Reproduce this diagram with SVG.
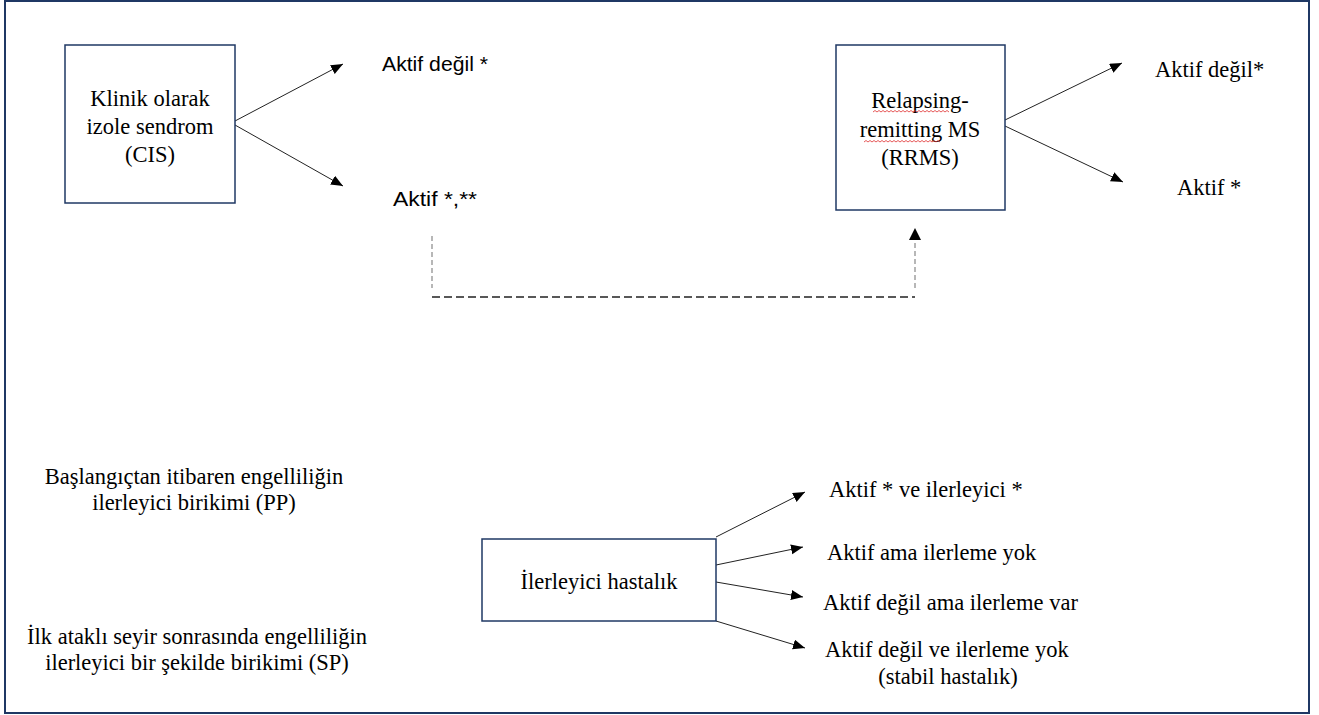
<svg xmlns="http://www.w3.org/2000/svg" width="1319" height="715" viewBox="0 0 1319 715">
<style>
.box{fill:#fff;stroke:#1f3864;stroke-width:1.5}
.serif{font-family:"Liberation Serif","Times New Roman",serif;font-size:22.5px;fill:#000}
.sans{font-family:"Liberation Sans",Arial,sans-serif;font-size:21px;fill:#000}
.arr{stroke:#222;stroke-width:1;fill:none;marker-end:url(#ah)}
.dash{stroke:#222;stroke-width:1.3;stroke-dasharray:8,4;fill:none}
.dashg{stroke:#888;stroke-width:1.2;stroke-dasharray:5,3;fill:none}
.sq{stroke:#e03030;stroke-width:0.8;fill:none}
</style>
<defs>
<marker id="ah" markerUnits="userSpaceOnUse" markerWidth="14" markerHeight="12" refX="12" refY="5" orient="auto">
<path d="M0,0 L12,5 L0,10 z" fill="#000"/>
</marker>
</defs>
<rect x="0" y="0" width="1319" height="715" fill="#fff"/>
<rect x="5" y="1" width="1304" height="712" fill="none" stroke="#1f3864" stroke-width="2"/>

<g id="connectors">
<line class="arr" x1="235" y1="121" x2="343" y2="64"/>
<line class="arr" x1="235" y1="125" x2="343" y2="186"/>
<line class="arr" x1="1005" y1="120" x2="1122" y2="63"/>
<line class="arr" x1="1005" y1="126" x2="1123" y2="182"/>
<line class="dashg" x1="432" y1="236" x2="432" y2="288"/>
<line class="dash" x1="432" y1="297" x2="915" y2="297"/>
<line class="dashg" x1="915" y1="288" x2="915" y2="240"/>
<path d="M909,240 L915,228 L921,240 z" fill="#000"/>
<line class="arr" x1="716" y1="537" x2="805" y2="492"/>
<line class="arr" x1="716" y1="565" x2="803" y2="547"/>
<line class="arr" x1="716" y1="582" x2="803" y2="597"/>
<line class="arr" x1="716" y1="621" x2="805" y2="648"/>
</g>

<g id="cis">
<rect class="box" x="65" y="45" width="170" height="158"/>
<text class="serif" text-anchor="middle" x="150" y="106">Klinik olarak</text>
<text class="serif" text-anchor="middle" x="150" y="134">izole sendrom</text>
<text class="serif" text-anchor="middle" x="150" y="162">(CIS)</text>
</g>
<g id="cis-inactive"><text class="sans" x="382" y="71" textLength="106" lengthAdjust="spacingAndGlyphs">Aktif değil *</text></g>
<g id="cis-active"><text class="sans" x="393" y="206" textLength="84" lengthAdjust="spacingAndGlyphs">Aktif *,**</text></g>

<g id="rrms">
<rect class="box" x="836" y="45" width="169" height="165"/>
<text class="serif" text-anchor="middle" x="920" y="108">Relapsing-</text>
<text class="serif" text-anchor="middle" x="920" y="137">remitting MS</text>
<text class="serif" text-anchor="middle" x="920" y="165">(RRMS)</text>
<path class="sq" d="M873,112 l2,-1.5 l2,1.5 l2,-1.5 l2,1.5 l2,-1.5 l2,1.5 l2,-1.5 l2,1.5 l2,-1.5 l2,1.5 l2,-1.5 l2,1.5 l2,-1.5 l2,1.5 l2,-1.5 l2,1.5 l2,-1.5 l2,1.5 l2,-1.5 l2,1.5 l2,-1.5 l2,1.5 l2,-1.5 l2,1.5 l2,-1.5 l2,1.5 l2,-1.5 l2,1.5 l2,-1.5 l2,1.5 l2,-1.5 l2,1.5 l2,-1.5 l2,1.5 l2,-1.5 l2,1.5 l2,-1.5 l2,1.5"/>
<path class="sq" d="M864,142 l2,-1.5 l2,1.5 l2,-1.5 l2,1.5 l2,-1.5 l2,1.5 l2,-1.5 l2,1.5 l2,-1.5 l2,1.5 l2,-1.5 l2,1.5 l2,-1.5 l2,1.5 l2,-1.5 l2,1.5 l2,-1.5 l2,1.5 l2,-1.5 l2,1.5 l2,-1.5 l2,1.5 l2,-1.5 l2,1.5 l2,-1.5 l2,1.5 l2,-1.5 l2,1.5 l2,-1.5 l2,1.5 l2,-1.5 l2,1.5 l2,-1.5 l2,1.5 l2,-1.5 l2,1.5 l2,-1.5 l2,1.5"/>
</g>
<g id="rrms-inactive"><text class="serif" x="1155" y="77">Aktif değil*</text></g>
<g id="rrms-active"><text class="serif" x="1177" y="195">Aktif *</text></g>

<g id="pp">
<text class="serif" text-anchor="middle" x="194" y="484">Başlangıçtan itibaren engelliliğin</text>
<text class="serif" text-anchor="middle" x="194" y="510">ilerleyici birikimi (PP)</text>
</g>
<g id="sp">
<text class="serif" text-anchor="middle" x="197" y="644">İlk ataklı seyir sonrasında engelliliğin</text>
<text class="serif" text-anchor="middle" x="197" y="670">ilerleyici bir şekilde birikimi (SP)</text>
</g>

<g id="progressive">
<rect class="box" x="482" y="539" width="234" height="82"/>
<text class="serif" text-anchor="middle" x="599" y="589">İlerleyici hastalık</text>
</g>
<g id="p1"><text class="serif" x="829" y="497">Aktif * ve ilerleyici *</text></g>
<g id="p2"><text class="serif" x="827" y="560">Aktif ama ilerleme yok</text></g>
<g id="p3"><text class="serif" x="823" y="610">Aktif değil ama ilerleme var</text></g>
<g id="p4">
<text class="serif" x="825" y="657">Aktif değil ve ilerleme yok</text>
<text class="serif" text-anchor="middle" x="948" y="684">(stabil hastalık)</text>
</g>
</svg>
